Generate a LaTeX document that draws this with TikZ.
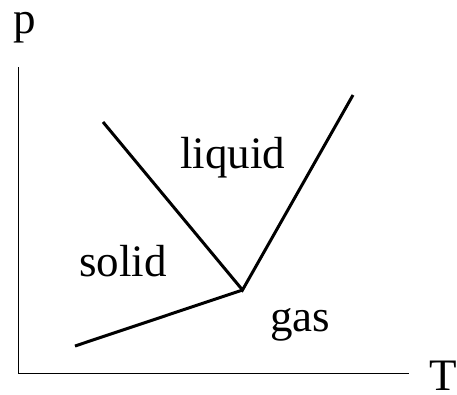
\documentclass[tikz,border=0pt]{standalone}
\usepackage{fontspec}
\setmainfont{Liberation Serif}
\usetikzlibrary{positioning}

\begin{document}
\begin{tikzpicture}[
      x=1pt, y=-1pt,
      every node/.style={font=\fontsize{45}{50}\selectfont, inner sep=0pt},
      axis/.style={line width=1.5pt},
      phaseline/.style={line width=3pt},
      lbl/.style={anchor=base west},
    ]
    \useasboundingbox (0,0) rectangle (457,394);

    % Axes
    \coordinate (o) at (18.5,373.5);
    \coordinate (ytop) at (18.5,67);
    \coordinate (xend) at (409,373.5);
    \draw[axis] (ytop) -- (o) -- (xend);
    \node[lbl] (p) at (13,33) {p};
    \node[lbl] (T) at (429,390) {T};

    % Phase boundaries
    \coordinate (tp) at (242.5,290);
    \coordinate (sl) at (103,122);
    \coordinate (lg) at (353,95);
    \coordinate (sg) at (75,346);
    \draw[phaseline] (sl) -- (tp) -- (lg);
    \draw[phaseline] (sg) -- (tp);

    % Regions
    \node[lbl] (liquid) at (180,168) {liquid};
    \node[lbl] (solid) at (79,276) {solid};
    \node[lbl] (gas) at (270,331) {gas};
  \end{tikzpicture}
\end{document}
